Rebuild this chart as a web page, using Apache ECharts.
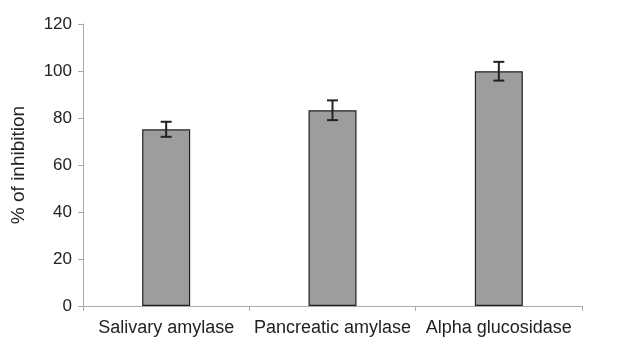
<!DOCTYPE html>
<html>
<head>
<meta charset="utf-8">
<script src="https://cdn.jsdelivr.net/npm/echarts@6/dist/echarts.min.js"></script>
<style>
  html, body { margin: 0; padding: 0; background: #fff; }
  #chart { width: 622px; height: 343px; }
</style>
</head>
<body>
<div id="chart"></div>
<script>
// values
const categories = ["Salivary amylase", "Pancreatic amylase", "Alpha glucosidase"];
const inhibition = [75.2, 83.3, 99.9];
const errors = [3.2, 4.2, 4.0];

const chart = echarts.init(document.getElementById("chart"));

const errorData = categories.map((c, i) => [i, inhibition[i] - errors[i], inhibition[i] + errors[i]]);
const font = "Liberation Sans, Arial, sans-serif";

chart.setOption({
  animation: false,
  grid: { left: 83, right: 40, top: 24, bottom: 37 },
  xAxis: {
    type: "category",
    data: categories,
    axisLine: { lineStyle: { color: "#aaa", width: 1 } },
    axisTick: { show: true, length: 5, lineStyle: { color: "#aaa" } },
    axisLabel: { interval: 0, color: "#222", fontSize: 18, fontFamily: font, margin: 13 }
  },
  yAxis: {
    type: "value",
    min: 0,
    max: 120,
    interval: 20,
    name: "% of inhibition",
    nameLocation: "middle",
    nameGap: 55,
    nameTextStyle: { color: "#222", fontSize: 19, fontFamily: font },
    splitLine: { show: false },
    axisLine: { show: true, lineStyle: { color: "#aaa", width: 1 } },
    axisTick: { show: true, length: 5, lineStyle: { color: "#aaa" } },
    axisLabel: { color: "#222", fontSize: 17, fontFamily: font, margin: 11 }
  },
  series: [
    {
      type: "bar",
      data: inhibition,
      barWidth: 48,
      itemStyle: { color: "#9d9d9d", borderColor: "#222", borderWidth: 1.2 }
    },
    {
      type: "custom",
      data: errorData,
      z: 10,
      renderItem(params, api) {
        const x = api.value(0);
        const lo = api.coord([x, api.value(1)]);
        const hi = api.coord([x, api.value(2)]);
        const half = 5.5;
        const style = { stroke: "#222", lineWidth: 2 };
        return {
          type: "group",
          children: [
            { type: "line", shape: { x1: hi[0], y1: hi[1], x2: lo[0], y2: lo[1] }, style },
            { type: "line", shape: { x1: hi[0] - half, y1: hi[1], x2: hi[0] + half, y2: hi[1] }, style },
            { type: "line", shape: { x1: lo[0] - half, y1: lo[1], x2: lo[0] + half, y2: lo[1] }, style }
          ]
        };
      }
    }
  ]
});
</script>
</body>
</html>
